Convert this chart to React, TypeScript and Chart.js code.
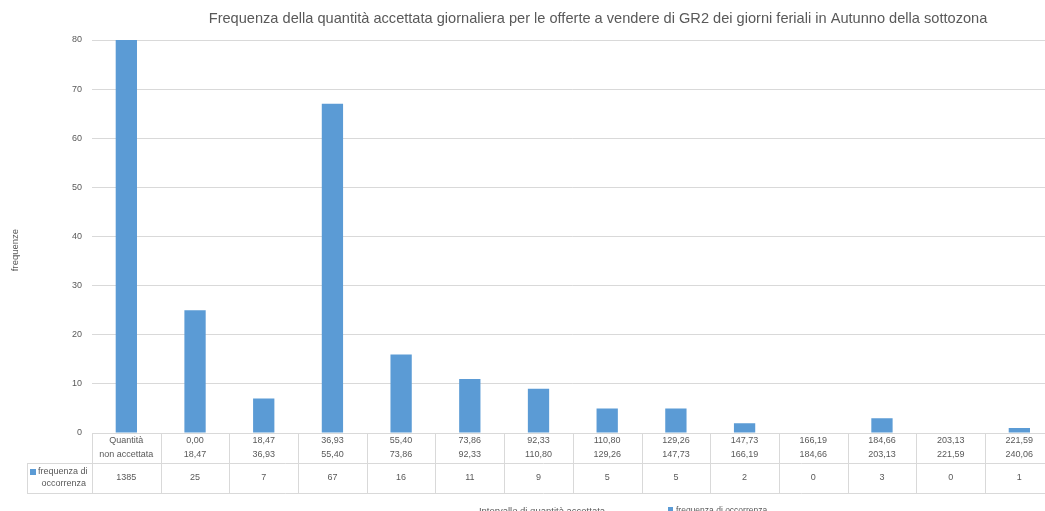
import React, { useEffect, useRef } from "react";
import { Chart, registerables } from "chart.js";

Chart.register(...registerables);

const titleText =
  "Frequenza della quantità accettata giornaliera per le offerte a vendere di GR2 dei giorni feriali in Autunno della sottozona";
const yAxisTitle = "frequenze";
const xAxisTitle = "Intervallo di quantità accettata";
const seriesName = "frequenza di occorrenza";

const rangeFrom = ["Quantità", "0,00", "18,47", "36,93", "55,40", "73,86", "92,33", "110,80", "129,26", "147,73", "166,19", "184,66", "203,13", "221,59"];
const rangeTo = ["non accettata", "18,47", "36,93", "55,40", "73,86", "92,33", "110,80", "129,26", "147,73", "166,19", "184,66", "203,13", "221,59", "240,06"];
const frequencies = [1385, 25, 7, 67, 16, 11, 9, 5, 5, 2, 0, 3, 0, 1];

const yMin = 0;
const yMax = 80;
const yStep = 10;

const BAR = "#5B9BD5";
const TEXT = "#595959";
const GRID = "#d9d9d9";
const FONT = '"Liberation Sans", Arial, sans-serif';

const W = 1060;
const H = 520;

const tablePlugin = {
  id: "dataTable",
  afterDraw(chart: any) {
    const ctx = chart.ctx as CanvasRenderingContext2D;
    const area = chart.chartArea;
    const xs = chart.scales.x;
    const n = frequencies.length;
    const colW = (area.right - area.left) / n;
    const top = area.bottom;
    const mid = top + 30;
    const bot = top + 60;
    ctx.save();
    ctx.strokeStyle = GRID;
    ctx.lineWidth = 1;
    const hl = (x1: number, x2: number, y: number) => {
      ctx.beginPath();
      ctx.moveTo(x1, Math.round(y) + 0.5);
      ctx.lineTo(x2, Math.round(y) + 0.5);
      ctx.stroke();
    };
    const vl = (x: number, y1: number, y2: number) => {
      ctx.beginPath();
      ctx.moveTo(Math.round(x) + 0.5, y1);
      ctx.lineTo(Math.round(x) + 0.5, y2);
      ctx.stroke();
    };
    const legL = 27;
    hl(area.left, chart.width, top);
    hl(legL, chart.width, mid);
    hl(legL, chart.width, bot);
    vl(legL, mid, bot);
    for (let i = 0; i <= n; i++) vl(area.left + i * colW, top, bot);

    ctx.fillStyle = TEXT;
    ctx.font = `9px ${FONT}`;
    ctx.textAlign = "center";
    ctx.textBaseline = "middle";
    for (let i = 0; i < n; i++) {
      const cx = xs.getPixelForValue(i);
      ctx.fillText(rangeFrom[i], cx, top + 8);
      ctx.fillText(rangeTo[i], cx, top + 22);
      ctx.fillText(String(frequencies[i]), cx, mid + 15);
    }
    // legend key cell
    ctx.fillStyle = BAR;
    ctx.fillRect(30, mid + 6, 6, 6);
    ctx.fillStyle = TEXT;
    ctx.textAlign = "left";
    ctx.fillText("frequenza di", 38, mid + 9);
    ctx.textAlign = "right";
    ctx.fillText("occorrenza", 86, mid + 21);

    // title
    ctx.font = `14.6px ${FONT}`;
    ctx.textAlign = "center";
    ctx.fillText(titleText, 598, 19);

    // y axis title
    ctx.font = `9.5px ${FONT}`;
    ctx.save();
    ctx.translate(15, 250);
    ctx.rotate(-Math.PI / 2);
    ctx.textAlign = "center";
    ctx.fillText(yAxisTitle, 0, 0);
    ctx.restore();

    // x axis title
    ctx.font = `9.5px ${FONT}`;
    ctx.textAlign = "center";
    ctx.fillText(xAxisTitle, 542, 511);

    // bottom legend
    ctx.fillStyle = BAR;
    ctx.fillRect(668, 507, 5, 5);
    ctx.fillStyle = TEXT;
    ctx.font = `8.5px ${FONT}`;
    ctx.textAlign = "left";
    ctx.fillText(seriesName, 676, 511);
    ctx.restore();
  },
};

export default function App() {
  const ref = useRef<HTMLCanvasElement | null>(null);
  useEffect(() => {
    if (!ref.current) return;
    const chart = new Chart(ref.current, {
      type: "bar",
      data: {
        labels: rangeFrom.map((f, i) => `${f} ${rangeTo[i]}`),
        datasets: [
          {
            label: seriesName,
            data: frequencies,
            backgroundColor: BAR,
            barPercentage: 0.31,
            categoryPercentage: 1,
          },
        ],
      },
      options: {
        responsive: false,
        animation: false,
        layout: { padding: { left: 0, right: 6.3, top: 40, bottom: 87 } },
        plugins: { legend: { display: false }, title: { display: false }, tooltip: { enabled: false } },
        scales: {
          x: { display: false },
          y: {
            min: yMin,
            max: yMax,
            ticks: { stepSize: yStep, color: TEXT, font: { family: FONT, size: 9 }, padding: 10 },
            grid: { color: GRID, drawTicks: false },
            border: { display: false },
            afterFit: (s: any) => {
              s.width = 92;
            },
          },
        },
      },
      plugins: [tablePlugin],
    });
    return () => chart.destroy();
  }, []);
  return (
    <div style={{ position: "fixed", left: 0, top: 0, width: 1045, height: 511, overflow: "hidden", background: "#fff" }}>
      <canvas ref={ref} width={W} height={H} style={{ position: "absolute", left: 0, top: 0 }} />
    </div>
  );
}
